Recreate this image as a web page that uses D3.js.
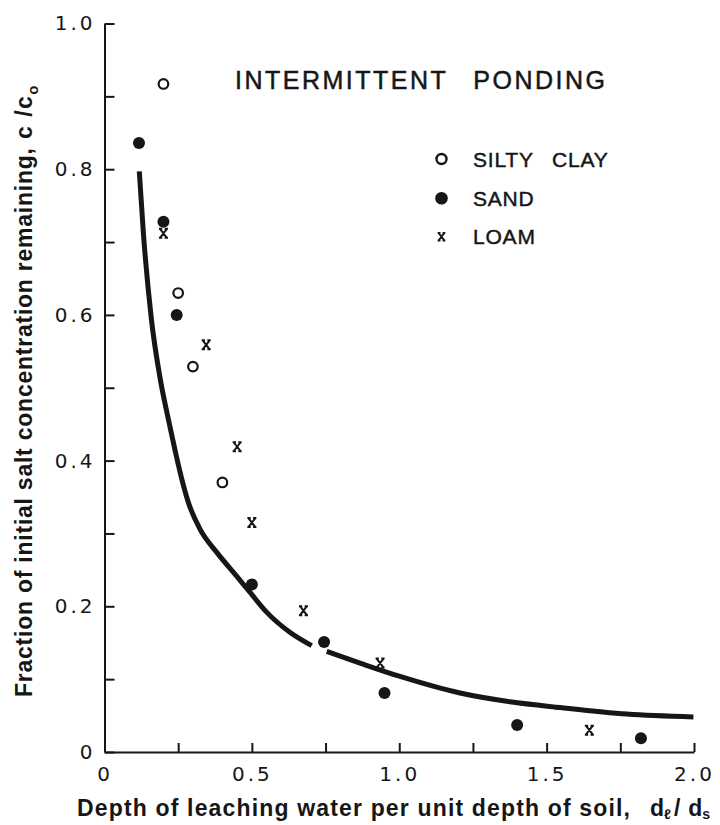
<!DOCTYPE html>
<html>
<head>
<meta charset="utf-8">
<script src="https://cdn.jsdelivr.net/npm/d3@7/dist/d3.min.js"></script>
<style>
  html, body { margin: 0; padding: 0; background: #fff; }
  svg { display: block; }
</style>
</head>
<body>
<script>
// ---------- data ----------
const siltyClayX = [0.20, 0.25, 0.30, 0.40];
const siltyClayY = [0.917, 0.630, 0.529, 0.370];

const sandX = [0.117, 0.20, 0.245, 0.50, 0.745, 0.95, 1.40, 1.82];
const sandY = [0.836, 0.728, 0.600, 0.230, 0.151, 0.081, 0.037, 0.019];

const loamX = [0.20, 0.345, 0.45, 0.50, 0.675, 0.935, 1.645];
const loamY = [0.712, 0.559, 0.419, 0.315, 0.194, 0.122, 0.030];

// fitted curve, drawn in two pieces (gap near x = 0.73)
const curve1X = [0.118, 0.132, 0.158, 0.190, 0.215, 0.240, 0.262, 0.285, 0.324, 0.381, 0.449, 0.494, 0.550, 0.630, 0.703];
const curve1Y = [0.797, 0.712, 0.598, 0.510, 0.460, 0.413, 0.375, 0.342, 0.306, 0.274, 0.241, 0.219, 0.192, 0.164, 0.146];
const curve2X = [0.754, 0.867, 1.000, 1.206, 1.376, 1.546, 1.772, 1.998];
const curve2Y = [0.138, 0.122, 0.104, 0.081, 0.069, 0.061, 0.052, 0.048];

const xTickValues = [0, 0.25, 0.5, 0.75, 1.0, 1.25, 1.5, 1.75, 2.0];
const xTickLabels = ["0", "", "0.5", "", "1.0", "", "1.5", "", "2.0"];
const yTickValues = [0, 0.1, 0.2, 0.3, 0.4, 0.5, 0.6, 0.7, 0.8, 0.9, 1.0];
const yTickLabels = ["0", "", "0.2", "", "0.4", "", "0.6", "", "0.8", "", "1.0"];

const legendNames = ["SILTY CLAY", "SAND", "LOAM"];
const titleText = "INTERMITTENT PONDING";
const xLabelText = "Depth of leaching water per unit depth of soil,";
const yLabelText = "Fraction of initial salt concentration remaining,";

// ---------- drawing ----------
const W = 720, H = 825;
const ink = "#161616";
const svg = d3.select("body").append("svg").attr("width", W).attr("height", H);
svg.append("rect").attr("width", W).attr("height", H).attr("fill", "#fff");

const x = d3.scaleLinear().domain([0, 2]).range([104.5, 694]);
const y = d3.scaleLinear().domain([0, 1]).range([752, 23.5]);

const tickFont = "'DejaVu Sans', sans-serif";
const labFont = "'Liberation Sans', Arial, sans-serif";

// Y axis
const gy = svg.append("g").attr("transform", `translate(${x(0)},0)`)
  .call(d3.axisLeft(y).tickValues(yTickValues).tickSize(-10).tickSizeOuter(0).tickPadding(9)
    .tickFormat((d, i) => yTickLabels[i]));
// X axis
const gx = svg.append("g").attr("transform", `translate(0,${y(0)})`)
  .call(d3.axisBottom(x).tickValues(xTickValues).tickSize(-9).tickSizeOuter(0).tickPadding(15)
    .tickFormat((d, i) => xTickLabels[i]));

[gx, gy].forEach(g => {
  g.select(".domain").attr("stroke", ink).attr("stroke-width", 2);
  g.selectAll(".tick line").attr("stroke", ink).attr("stroke-width", 2);
  g.selectAll(".tick text").attr("fill", ink).style("font-family", tickFont)
    .style("font-size", "20px").style("letter-spacing", "3px");
});

// curve
const line = d3.line().x(d => x(d[0])).y(d => y(d[1])).curve(d3.curveMonotoneX);
[[curve1X, curve1Y], [curve2X, curve2Y]].forEach(([cx, cy]) => {
  svg.append("path").datum(cx.map((v, i) => [v, cy[i]]))
    .attr("d", line).attr("fill", "none").attr("stroke", ink).attr("stroke-width", 5);
});

// markers
const xMarkPath = "M-3.5,-4.5L3.5,4.5M3.5,-4.5L-3.5,4.5M-4.5,-4.5H-1.2M1.2,-4.5H4.5M-4.5,4.5H-1.2M1.2,4.5H4.5";

svg.append("g").selectAll("circle").data(sandX.map((v, i) => [v, sandY[i]])).join("circle")
  .attr("cx", d => x(d[0])).attr("cy", d => y(d[1])).attr("r", 6).attr("fill", ink);

svg.append("g").selectAll("circle").data(siltyClayX.map((v, i) => [v, siltyClayY[i]])).join("circle")
  .attr("cx", d => x(d[0])).attr("cy", d => y(d[1])).attr("r", 4.8)
  .attr("fill", "#fff").attr("stroke", ink).attr("stroke-width", 2.2);

svg.append("g").selectAll("path").data(loamX.map((v, i) => [v, loamY[i]])).join("path")
  .attr("transform", d => `translate(${x(d[0])},${y(d[1])})`)
  .attr("d", xMarkPath).attr("fill", "none").attr("stroke", ink).attr("stroke-width", 2);

// title
svg.append("text").attr("x", 235).attr("y", 88.5).text(titleText)
  .attr("fill", ink).attr("stroke", ink).attr("stroke-width", 0.5)
  .style("font-family", labFont).style("font-size", "25px")
  .style("letter-spacing", "2.5px").style("word-spacing", "16px");

// legend
const legY = [159, 198.3, 236.7];
const lg = svg.append("g");
lg.append("circle").attr("cx", 441.5).attr("cy", legY[0]).attr("r", 5)
  .attr("fill", "#fff").attr("stroke", ink).attr("stroke-width", 2.4);
lg.append("circle").attr("cx", 441.5).attr("cy", legY[1]).attr("r", 6.3).attr("fill", ink);
lg.append("path").attr("transform", `translate(441.5,${legY[2]}) scale(0.85)`)
  .attr("d", xMarkPath).attr("fill", "none").attr("stroke", ink).attr("stroke-width", 2.2);
lg.selectAll("text").data(legendNames).join("text")
  .attr("x", 473).attr("y", (d, i) => legY[i] + 7.6).text(d => d)
  .attr("fill", ink).attr("stroke", ink).attr("stroke-width", 0.45)
  .style("font-family", labFont).style("font-size", "21px")
  .style("letter-spacing", "0.8px").style("word-spacing", "12px");

// x axis label
svg.append("text").attr("x", 77).attr("y", 816).text(xLabelText)
  .attr("textLength", 553).attr("lengthAdjust", "spacing")
  .attr("fill", ink).style("font-family", labFont).style("font-size", "23px").style("font-weight", "bold");
const xl2 = svg.append("text").attr("x", 650).attr("y", 816).attr("fill", ink)
  .style("font-family", labFont).style("font-size", "23px").style("font-weight", "bold");
xl2.append("tspan").text("d");
xl2.append("tspan").attr("dy", 3).style("font-size", "14px").text("ℓ");
xl2.append("tspan").attr("dy", -3).attr("dx", 3).text("/");
xl2.append("tspan").attr("dx", 8).text("d");
xl2.append("tspan").attr("dy", 3).style("font-size", "14px").text("s");

// y axis label
svg.append("text").attr("transform", "translate(32,697) rotate(-90)").text(yLabelText)
  .attr("textLength", 549).attr("lengthAdjust", "spacing")
  .attr("fill", ink).style("font-family", labFont).style("font-size", "23px").style("font-weight", "bold");
const yl2 = svg.append("text").attr("transform", "translate(32,139) rotate(-90)").attr("fill", ink)
  .style("font-family", labFont).style("font-size", "23px").style("font-weight", "bold")
  .style("letter-spacing", "1.5px");
yl2.append("tspan").text("c /c");
yl2.append("tspan").attr("dy", 6).style("font-size", "15px").text("o");
</script>
</body>
</html>
